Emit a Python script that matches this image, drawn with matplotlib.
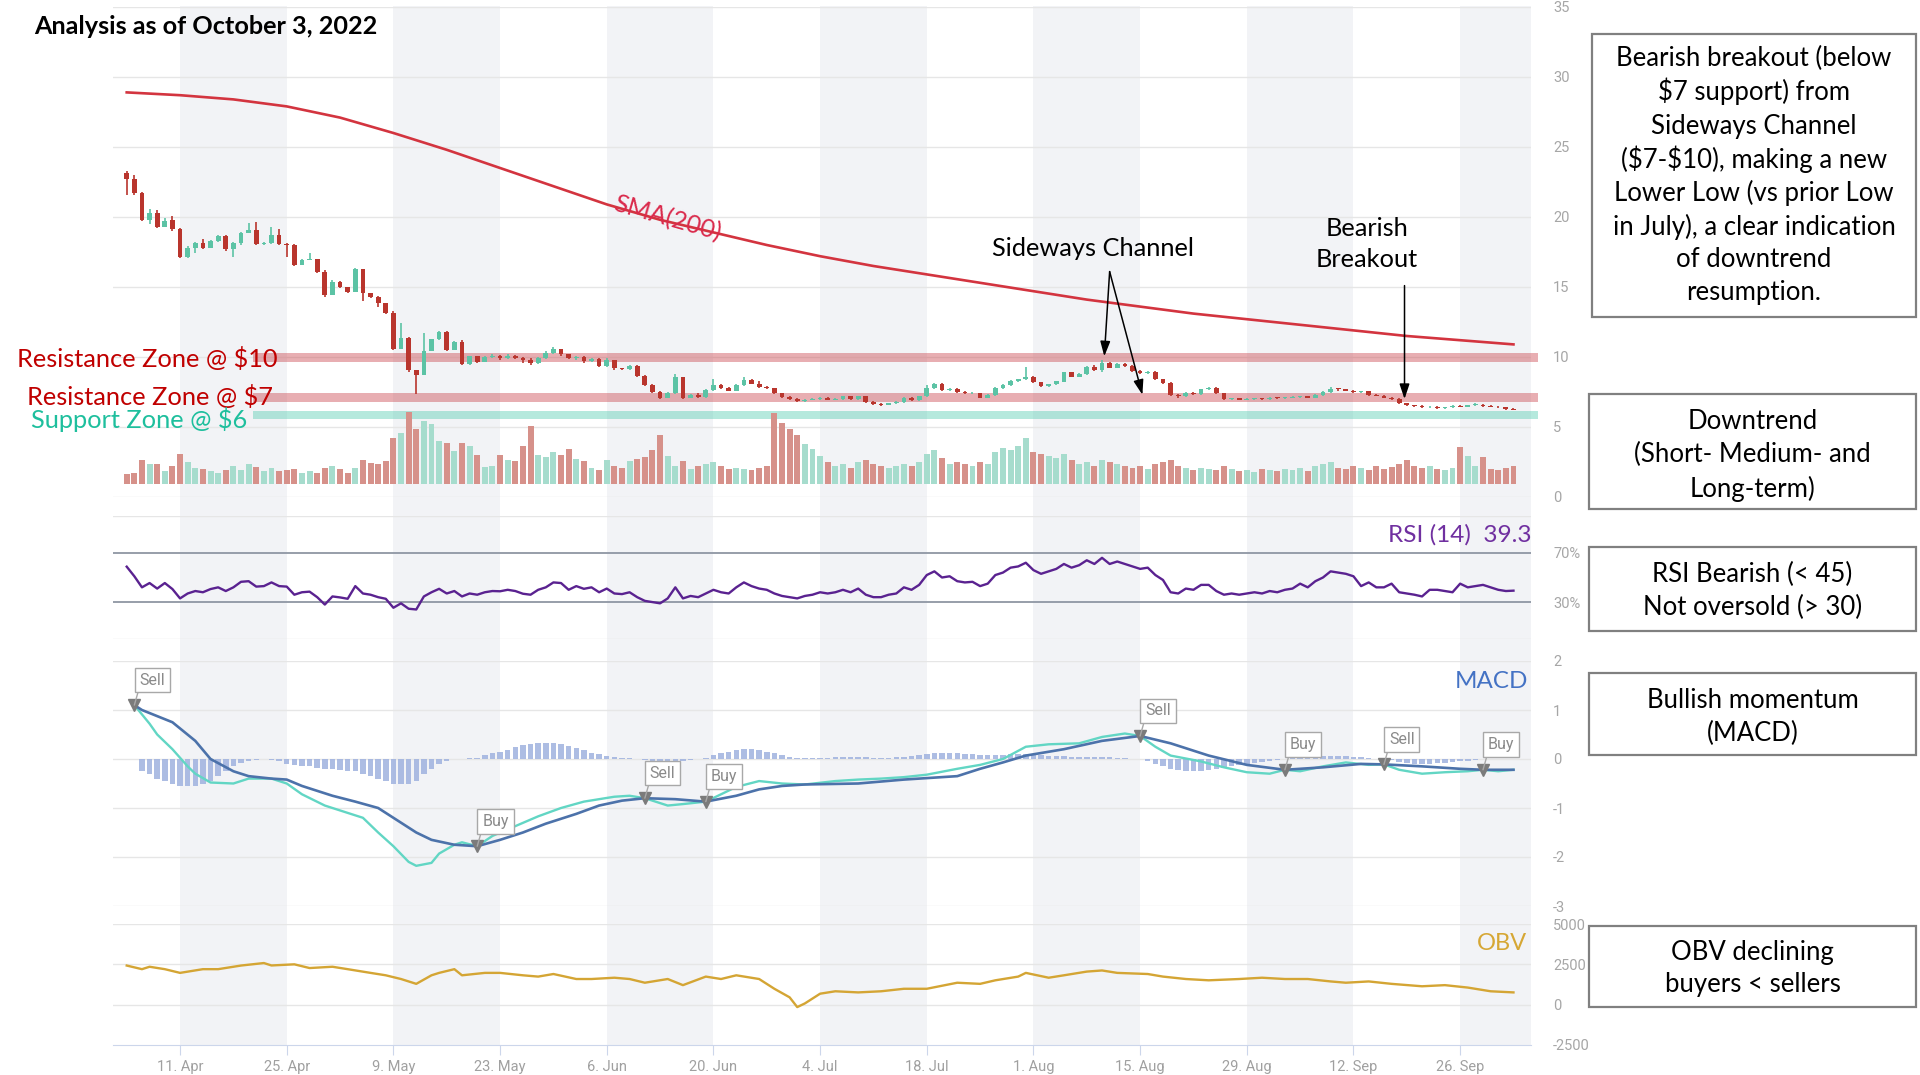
import datetime as dt
import numpy as np
import matplotlib
matplotlib.use("Agg")
import matplotlib.pyplot as plt
from matplotlib.patches import Rectangle

# ---------------- data ----------------
start_date = "2022-04-04"
first_open = 23.17
close = [22.69, 21.69, 19.79, 20.26, 19.31, 19.75, 19.12, 17.17, 17.81, 18.12,
         17.76, 18.31, 18.64, 17.69, 18.12, 18.88, 19.07, 18.07, 18.17, 18.71,
         18.07, 18.00, 16.57, 16.93, 17.00, 16.10, 14.43, 15.38, 14.98, 14.67,
         16.29, 14.60, 14.31, 13.83, 13.17, 10.57, 11.33, 9.05, 8.71, 10.45,
         11.26, 11.81, 10.50, 11.10, 9.50, 10.07, 9.67, 9.98, 10.10, 9.95,
         10.05, 9.95, 9.80, 9.55, 9.90, 10.30, 10.55, 10.20, 9.90, 10.00,
         9.70, 9.85, 9.35, 9.80, 9.20, 9.14, 9.33, 8.67, 8.00, 7.50,
         7.10, 7.40, 8.60, 7.10, 7.30, 7.15, 7.67, 8.00, 7.80, 7.60,
         8.00, 8.38, 8.10, 7.86, 7.76, 7.40, 7.14, 7.00, 6.85, 6.95,
         7.00, 7.10, 6.95, 7.00, 7.20, 7.00, 7.20, 6.80, 6.65, 6.60,
         6.70, 6.80, 7.10, 6.90, 7.20, 7.80, 8.10, 7.65, 7.75, 7.50,
         7.40, 7.45, 7.10, 7.30, 7.80, 8.00, 8.30, 8.40, 8.60, 8.20,
         7.90, 8.05, 8.25, 8.90, 8.60, 8.80, 9.30, 9.10, 9.60, 9.25,
         9.50, 9.35, 9.00, 8.85, 8.95, 8.40, 8.15, 7.30, 7.20, 7.45,
         7.35, 7.70, 7.80, 7.40, 7.00, 7.05, 6.95, 7.00, 7.05, 7.00,
         7.10, 7.05, 7.10, 7.15, 7.20, 7.10, 7.30, 7.50, 7.75, 7.70,
         7.60, 7.50, 7.55, 7.30, 7.25, 7.10, 7.00, 6.70, 6.55, 6.50,
         6.40, 6.45, 6.35, 6.40, 6.50, 6.45, 6.55, 6.60, 6.50, 6.45,
         6.40, 6.30, 6.25]
high = [23.30, 23.00, 21.80, 20.60, 20.50, 19.90, 20.10, 19.20, 17.90, 18.20,
        18.40, 18.35, 18.70, 18.75, 18.20, 18.95, 19.55, 19.67, 18.25, 19.26,
        19.15, 18.15, 18.10, 17.00, 17.45, 17.00, 16.20, 15.50, 15.40, 15.00,
        16.35, 16.30, 14.60, 14.35, 13.85, 13.30, 12.40, 11.40, 9.10, 11.70,
        11.30, 11.85, 11.85, 11.15, 11.20, 10.10, 10.10, 10.05, 10.20, 10.15,
        10.20, 10.15, 10.00, 9.95, 10.00, 10.40, 10.70, 10.60, 10.25, 10.10,
        10.05, 9.90, 9.90, 9.90, 9.80, 9.25, 9.40, 9.40, 8.70, 8.05,
        7.55, 7.50, 8.80, 8.60, 7.35, 7.40, 7.70, 8.40, 8.05, 7.85,
        8.05, 8.55, 8.40, 8.30, 7.90, 7.80, 7.45, 7.20, 7.05, 7.00,
        7.05, 7.15, 7.15, 7.05, 7.25, 7.25, 7.25, 7.25, 6.85, 6.70,
        6.75, 6.85, 7.15, 7.15, 7.25, 8.00, 8.15, 8.15, 7.80, 7.80,
        7.55, 7.50, 7.45, 7.35, 7.85, 8.05, 8.35, 8.45, 9.30, 8.65,
        8.25, 8.10, 8.30, 8.95, 8.95, 8.85, 9.35, 9.40, 9.80, 9.65,
        9.55, 9.55, 9.40, 9.05, 9.00, 9.00, 8.45, 8.20, 7.35, 7.50,
        7.50, 7.75, 7.85, 7.85, 7.45, 7.10, 7.10, 7.05, 7.10, 7.10,
        7.15, 7.15, 7.15, 7.20, 7.25, 7.25, 7.35, 7.55, 7.85, 7.80,
        7.75, 7.65, 7.60, 7.60, 7.35, 7.30, 7.15, 7.05, 6.75, 6.60,
        6.55, 6.50, 6.50, 6.45, 6.55, 6.55, 6.60, 6.70, 6.65, 6.55,
        6.50, 6.45, 6.35]
low = [21.57, 21.60, 19.70, 19.50, 19.20, 19.35, 19.00, 17.10, 17.10, 17.45,
       17.70, 17.80, 18.25, 17.60, 17.17, 18.00, 18.85, 18.00, 18.00, 18.10,
       18.00, 17.17, 16.50, 16.55, 16.90, 16.00, 14.30, 14.40, 14.90, 14.60,
       14.65, 14.00, 14.20, 13.60, 13.10, 10.50, 10.55, 8.90, 7.33, 8.70,
       10.40, 11.25, 10.45, 10.50, 9.40, 9.45, 9.60, 9.65, 9.90, 9.80,
       9.85, 9.85, 9.60, 9.40, 9.50, 9.85, 10.25, 10.10, 9.85, 9.80,
       9.60, 9.65, 9.30, 9.30, 9.10, 9.05, 9.10, 8.60, 7.95, 7.40,
       7.00, 7.05, 7.35, 7.00, 7.05, 7.05, 7.10, 7.60, 7.75, 7.55,
       7.55, 7.95, 8.05, 7.80, 7.70, 7.35, 7.10, 6.95, 6.80, 6.80,
       6.90, 6.95, 6.90, 6.90, 6.95, 6.95, 6.95, 6.75, 6.55, 6.50,
       6.55, 6.65, 6.75, 6.85, 6.85, 7.15, 7.75, 7.60, 7.60, 7.45,
       7.35, 7.35, 7.05, 7.05, 7.25, 7.75, 7.95, 8.25, 8.35, 8.15,
       7.85, 7.85, 8.00, 8.20, 8.55, 8.55, 8.75, 9.00, 8.90, 9.20,
       9.20, 9.30, 8.95, 8.80, 8.80, 8.35, 8.10, 7.25, 7.10, 7.15,
       7.30, 7.30, 7.65, 7.35, 6.95, 6.95, 6.90, 6.90, 6.95, 6.95,
       6.95, 7.00, 7.00, 7.05, 7.10, 7.05, 7.05, 7.25, 7.45, 7.60,
       7.55, 7.45, 7.45, 7.25, 7.20, 7.05, 6.95, 6.65, 6.50, 6.45,
       6.35, 6.35, 6.30, 6.30, 6.35, 6.40, 6.40, 6.50, 6.45, 6.40,
       6.35, 6.25, 6.20]
volume = [10, 11, 24, 20, 20, 13, 18, 30, 22, 16,
          15, 13, 11, 14, 18, 14, 20, 17, 13, 16,
          13, 14, 15, 11, 13, 11, 16, 18, 15, 11,
          16, 24, 21, 20, 23, 46, 51, 72, 55, 63,
          60, 43, 41, 33, 41, 38, 29, 17, 18, 29,
          24, 23, 38, 58, 29, 27, 32, 29, 35, 25,
          23, 16, 14, 24, 18, 16, 23, 25, 27, 34,
          49, 28, 18, 23, 15, 18, 20, 22, 18, 15,
          16, 15, 14, 16, 18, 71, 61, 55, 49, 40,
          35, 28, 22, 18, 20, 16, 22, 24, 20, 18,
          16, 18, 20, 18, 22, 30, 34, 26, 20, 22,
          20, 18, 22, 20, 32, 36, 34, 38, 46, 32,
          30, 28, 26, 30, 24, 20, 22, 18, 24, 22,
          20, 18, 16, 18, 15, 20, 22, 24, 18, 16,
          14, 16, 15, 14, 18, 15, 13, 14, 12, 15,
          14, 13, 15, 14, 16, 13, 18, 20, 22, 16,
          15, 18, 16, 14, 18, 15, 17, 20, 24, 18,
          16, 18, 15, 14, 16, 37, 28, 18, 27, 15,
          14, 16, 18]
sma_days = [0, 7, 14, 21, 28, 35, 42, 49, 56, 63, 70, 77, 84, 91, 98, 105,
            112, 119, 126, 133, 140, 147, 154, 161, 168, 175, 182]
sma200 = [28.9, 28.7, 28.4, 27.9, 27.1, 26.0, 24.8, 23.5, 22.2, 20.9, 19.8,
          18.9, 18.0, 17.2, 16.5, 15.9, 15.3, 14.7, 14.1, 13.6, 13.1, 12.7,
          12.3, 11.9, 11.5, 11.2, 10.9]
rsi = [58.8, 51, 42, 45.5, 41, 45.5, 40.6, 33, 37, 39,
       38, 40.6, 42, 39, 42, 46.5, 47, 42.6, 43, 46,
       43, 42.6, 36, 38, 38.5, 34, 28, 34.6, 33.8, 32.7,
       43, 37, 36, 34, 32.7, 25.4, 29, 24.6, 24, 34.6,
       38, 40.8, 37, 39, 34.6, 37, 36, 38, 39, 38.8,
       40, 39, 36.8, 36, 40, 42, 46, 45.5, 40, 43,
       40.8, 42, 38, 41, 37, 36.5, 38, 34, 31, 30,
       29, 33, 42, 33, 35, 34, 37, 40, 38, 37,
       42, 46, 43, 41, 40, 37, 35, 34, 33, 35,
       36, 38, 37, 38, 40, 38, 41, 36, 34, 34,
       36, 37, 42, 40, 44, 52, 55, 50, 51, 47,
       46, 46.5, 43, 45, 52, 54, 58, 59, 62, 56,
       53, 55, 57, 61, 58, 60, 64, 61, 66, 61,
       63, 61, 59, 57, 58, 52, 48, 38, 37, 41,
       40, 44, 44, 39, 36, 37, 36, 37, 38, 37,
       39, 38, 40, 41, 45, 42, 47, 50, 55, 54,
       53, 51, 43, 46, 42, 42, 45, 38, 37, 36,
       34.6, 40, 40, 39, 38, 45, 42, 43, 44, 42,
       40, 39, 39.3]
macd_days = [1, 3, 4, 6, 8, 9, 11, 14, 16, 19, 21, 23, 26, 28, 31, 33, 35, 37,
             38, 40, 41, 43, 44, 46, 48, 51, 54, 57, 60, 64, 66, 68, 71, 73,
             76, 80, 83, 86, 89, 93, 96, 99, 102, 105, 109, 112, 115, 118,
             121, 125, 128, 131, 133, 135, 137, 141, 144, 147, 150, 152, 154,
             157, 160, 163, 165, 167, 170, 173, 176, 178, 180, 182]
macd_line = [1.10, 0.72, 0.50, 0.20, -0.15, -0.30, -0.48, -0.50, -0.40, -0.40,
             -0.50, -0.72, -0.95, -1.05, -1.20, -1.50, -1.78, -2.10, -2.18,
             -2.12, -1.93, -1.75, -1.70, -1.78, -1.57, -1.37, -1.17, -1.00,
             -0.87, -0.77, -0.75, -0.80, -0.95, -0.92, -0.87, -0.57, -0.45,
             -0.50, -0.52, -0.45, -0.42, -0.40, -0.37, -0.32, -0.20, -0.12,
             0.00, 0.25, 0.30, 0.32, 0.45, 0.52, 0.47, 0.25, 0.07, -0.05,
             -0.17, -0.27, -0.30, -0.22, -0.25, -0.15, -0.07, -0.12, -0.11,
             -0.22, -0.30, -0.27, -0.25, -0.22, -0.25, -0.22]
signal_days = [1, 2, 6, 9, 11, 14, 16, 19, 21, 23, 27, 30, 33, 35, 38, 40, 43,
               46, 49, 52, 55, 59, 62, 65, 68, 72, 76, 80, 83, 86, 89, 96, 102,
               109, 112, 115, 118, 123, 128, 133, 137, 142, 147, 152, 157, 162,
               165, 170, 175, 178, 182]
signal_line = [1.10, 1.00, 0.75, 0.37, 0.00, -0.25, -0.35, -0.40, -0.42, -0.55,
               -0.75, -0.87, -1.00, -1.20, -1.50, -1.65, -1.75, -1.78, -1.65,
               -1.50, -1.32, -1.12, -0.95, -0.85, -0.80, -0.82, -0.87, -0.75,
               -0.62, -0.55, -0.52, -0.50, -0.42, -0.35, -0.20, -0.07, 0.07,
               0.20, 0.37, 0.47, 0.32, 0.07, -0.12, -0.22, -0.17, -0.10, -0.11,
               -0.15, -0.20, -0.22, -0.22]
hist = [0.00, 0.00, -0.25, -0.30, -0.40, -0.45, -0.50, -0.55, -0.55, -0.55,
        -0.50, -0.45, -0.35, -0.25, -0.15, -0.08, -0.05, -0.02, 0.00, -0.02,
        -0.05, -0.10, -0.12, -0.15, -0.15, -0.18, -0.20, -0.20, -0.22, -0.25,
        -0.25, -0.30, -0.35, -0.40, -0.45, -0.50, -0.50, -0.50, -0.45, -0.30,
        -0.20, -0.10, -0.05, 0.00, 0.00, 0.02, 0.03, 0.08, 0.12, 0.15,
        0.18, 0.25, 0.28, 0.30, 0.32, 0.33, 0.32, 0.30, 0.27, 0.23,
        0.19, 0.12, 0.10, 0.07, 0.05, 0.03, 0.02, 0.00, -0.02, -0.05,
        -0.07, -0.08, -0.07, -0.05, -0.03, -0.01, 0.02, 0.08, 0.12, 0.15,
        0.18, 0.20, 0.20, 0.18, 0.15, 0.12, 0.08, 0.05, 0.03, 0.02,
        0.02, 0.03, 0.03, 0.04, 0.05, 0.05, 0.04, 0.04, 0.03, 0.03,
        0.03, 0.04, 0.05, 0.06, 0.08, 0.10, 0.12, 0.12, 0.12, 0.12,
        0.10, 0.10, 0.09, 0.08, 0.08, 0.09, 0.10, 0.10, 0.10, 0.09,
        0.08, 0.07, 0.06, 0.06, 0.05, 0.05, 0.05, 0.05, 0.05, 0.04,
        0.03, 0.02, 0.01, 0.00, -0.05, -0.10, -0.15, -0.20, -0.23, -0.25,
        -0.25, -0.24, -0.22, -0.20, -0.18, -0.15, -0.12, -0.10, -0.08, -0.06,
        -0.04, -0.02, 0.00, 0.02, 0.03, 0.04, 0.05, 0.06, 0.07, 0.07,
        0.06, 0.05, 0.04, 0.02, 0.01, 0.00, -0.03, -0.06, -0.08, -0.10,
        -0.11, -0.10, -0.09, -0.08, -0.06, -0.05, -0.04, -0.02, 0.00, 0.01,
        0.01, 0.00, 0.00]
obv_days = [0, 2, 3, 5, 7, 10, 12, 15, 18, 19, 22, 24, 27, 29, 32, 34, 36, 38,
            40, 41, 43, 44, 47, 49, 52, 54, 56, 59, 61, 64, 66, 68, 71, 73,
            76, 78, 80, 83, 85, 87, 88, 89, 91, 93, 96, 99, 102, 105, 109,
            112, 114, 117, 118, 121, 123, 126, 128, 130, 134, 136, 139, 142,
            146, 149, 152, 155, 158, 160, 163, 166, 170, 173, 176, 179, 182]
obv = [2425, 2200, 2350, 2200, 1970, 2200, 2200, 2425, 2580, 2430, 2500, 2270,
       2350, 2200, 1970, 1820, 1590, 1290, 1820, 1970, 2200, 1820, 1970, 1970,
       1820, 1740, 1900, 1590, 1590, 1670, 1590, 1360, 1590, 1210, 1740, 1590,
       1820, 1590, 985, 455, -150, 76, 680, 830, 760, 830, 985, 985, 1360,
       1290, 1510, 1740, 1970, 1670, 1820, 2050, 2120, 1970, 1900, 1740, 1590,
       1510, 1590, 1670, 1590, 1590, 1440, 1360, 1440, 1290, 1140, 1210, 1060,
       830, 760]
flag_days = [1, 46, 68, 76, 133, 152, 165, 178]
flag_vals = [1.10, -1.78, -0.80, -0.87, 0.47, -0.22, -0.11, -0.22]
flag_labels = ["Sell", "Buy", "Sell", "Buy", "Sell", "Buy", "Sell", "Buy"]
tick_dates = ["2022-04-11", "2022-04-25", "2022-05-09", "2022-05-23",
              "2022-06-06", "2022-06-20", "2022-07-04", "2022-07-18",
              "2022-08-01", "2022-08-15", "2022-08-29", "2022-09-12",
              "2022-09-26"]
tick_labels = ["11. Apr", "25. Apr", "9. May", "23. May", "6. Jun", "20. Jun",
               "4. Jul", "18. Jul", "1. Aug", "15. Aug", "29. Aug", "12. Sep",
               "26. Sep"]
rsi_last = "39.3"

# ---------------- figure ----------------
W, H = 1920, 1075
fig = plt.figure(figsize=(19.2, 10.75), dpi=100)
fig.patch.set_facecolor("white")
TXT = ["Lato", "DejaVu Sans"]
TICK = ["Roboto", "DejaVu Sans"]

def fx(x):
    return x / W

def fy(y):
    return 1 - y / H

def axes_px(x0, y0, x1, y1, z):
    a = fig.add_axes([fx(x0), fy(y1), fx(x1) - fx(x0), fy(y0) - fy(y1)])
    a.set_zorder(z)
    a.patch.set_alpha(0)
    return a

d0 = dt.date.fromisoformat(start_date)
tick_pos = [(dt.date.fromisoformat(t) - d0).days for t in tick_dates]
n = len(close)
days = np.arange(n)
c = np.array(close)
o = np.array([first_open] + close[:-1])
hi = np.array(high)
lo = np.array(low)
up = c >= o
XL = (-1.8, 184.3)
PX0, PX1 = 113, 1531

grid_c = "#e6e6e6"
lab_c = "#a6a6a6"

# background bands
ax_bg = axes_px(PX0, 6, PX1, 1046, 0)
ax_bg.set_xlim(*XL)
ax_bg.set_ylim(0, 1)
ax_bg.axis("off")
edges = tick_pos + [XL[1]]
for i in range(0, len(edges) - 1, 2):
    ax_bg.axvspan(edges[i], edges[i + 1], color="#f2f3f6", lw=0)

def style_axis(a, ticks, labels, ylim):
    a.set_xlim(*XL)
    a.set_ylim(*ylim)
    for s in a.spines.values():
        s.set_visible(False)
    a.yaxis.tick_right()
    a.set_yticks(ticks)
    a.set_yticklabels(labels, fontfamily=TICK, fontsize=10.5, color=lab_c)
    a.tick_params(axis="y", length=0, pad=16)
    a.set_xticks([])

# price panel
ax_p = axes_px(PX0, 7, PX1, 497, 1)
style_axis(ax_p, range(0, 36, 5), [str(v) for v in range(0, 36, 5)], (0, 35))
for v in range(0, 36, 5):
    ax_p.axhline(v, color=grid_c, lw=1, zorder=0)

zone_x0, zone_x1 = 16.6, 185.2
ax_p.fill_between([zone_x0, zone_x1], 9.65, 10.3, color="#cc4d55", alpha=0.45, lw=0, zorder=1, clip_on=False)
ax_p.fill_between([zone_x0, zone_x1], 6.8, 7.45, color="#cc4d55", alpha=0.45, lw=0, zorder=1, clip_on=False)
ax_p.fill_between([zone_x0, zone_x1], 5.6, 6.15, color="#5ccfb5", alpha=0.45, lw=0, zorder=1, clip_on=False)

col_up, col_dn = "#5cc3a5", "#b9352d"
cols = np.where(up, col_up, col_dn)
ax_p.vlines(days, lo, hi, colors=cols, lw=1.2, zorder=3)
body_lo = np.minimum(o, c)
body_h = np.maximum(np.abs(c - o), 0.06)
ax_p.bar(days, body_h, bottom=body_lo, width=0.62, color=cols, lw=0, zorder=4)
ax_p.plot(sma_days, sma200, color="#d3343f", lw=1.9, zorder=5)

# volume panel (overlaid at the bottom of the price panel)
ax_v = axes_px(PX0, 7, PX1, 497, 2)
ax_v.set_xlim(*XL)
ax_v.set_ylim(-13, 477)
ax_v.axis("off")
vcols = np.where(up, "#a6dccd", "#d6918a")
ax_v.bar(days, volume, width=0.78, color=vcols, lw=0)

# RSI panel
ax_r = axes_px(PX0, 516, PX1, 639, 1)
style_axis(ax_r, [30, 70], ["30%", "70%"], (0, 100))
ax_r.axhline(0, color=grid_c, lw=1)
ax_r.axhline(100, color=grid_c, lw=1)
ax_r.axhline(30, color="#8f96a3", lw=1.3)
ax_r.axhline(70, color="#8f96a3", lw=1.3)
ax_r.plot(days, rsi, color="#5a2290", lw=1.7)

# MACD panel
ax_m = axes_px(PX0, 661, PX1, 906, 1)
style_axis(ax_m, range(-3, 3), [str(v) for v in range(-3, 3)], (-3, 2))
for v in range(-3, 3):
    ax_m.axhline(v, color=grid_c, lw=1, zorder=0)
ax_m.bar(days, hist, width=0.72, color="#9fb2df", alpha=0.85, lw=0, zorder=1)
ax_m.plot(macd_days, macd_line, color="#62d6c4", lw=1.7, zorder=2)
ax_m.plot(signal_days, signal_line, color="#4c72aa", lw=1.9, zorder=3)
ax_m.plot(flag_days, flag_vals, "v", color="#7b7b7b", ms=8, zorder=4)
for d, v, lab in zip(flag_days, flag_vals, flag_labels):
    ax_m.annotate(lab, xy=(d, v), xytext=(5, 25), textcoords="offset pixels",
                  ha="left", va="center", fontsize=11.5, color="#8a8a8a",
                  fontfamily=TICK, zorder=6,
                  bbox=dict(boxstyle="square,pad=0.3", fc="white", ec="#a8a8a8", lw=1),
                  arrowprops=dict(arrowstyle="-", color="#a8a8a8", lw=1,
                                  relpos=(0, 0), shrinkA=0, shrinkB=0))

# OBV panel
ax_o = axes_px(PX0, 924, PX1, 1045, 1)
style_axis(ax_o, [-2500, 0, 2500, 5000], ["-2500", "0", "2500", "5000"], (-2500, 5000))
for v in [0, 2500, 5000]:
    ax_o.axhline(v, color=grid_c, lw=1, zorder=0)
ax_o.spines["bottom"].set_visible(True)
ax_o.spines["bottom"].set_color("#ccd6eb")
ax_o.plot(obv_days, obv, color="#d4a534", lw=1.7)
ax_o.set_xticks(tick_pos)
ax_o.set_xticklabels(tick_labels, fontfamily=TICK, fontsize=10.5, color="#a0a0a0")
ax_o.tick_params(axis="x", length=7, color="#ccd6eb", pad=4)

# arrows on the price panel
def arrow(a, p0, p1):
    a.annotate("", xy=p1, xytext=p0,
               arrowprops=dict(arrowstyle="-|>,head_length=0.9,head_width=0.3",
                               color="black", lw=1.1, shrinkA=0, shrinkB=0),
               zorder=7)

arrow(ax_p, (129.0, 16.1), (128.3, 10.05))
arrow(ax_p, (129.0, 16.1), (133.3, 7.3))
arrow(ax_p, (167.7, 15.1), (167.7, 7.0))

# ---------------- texts ----------------
def T(x, y, s, **kw):
    kw.setdefault("fontfamily", TXT)
    return fig.text(fx(x), fy(y), s, **kw)

T(34, 27, "Analysis as of October 3, 2022", fontsize=18.2, fontweight="bold",
  ha="left", va="center", color="black")
T(17, 359, "Resistance Zone @ $10", fontsize=18.3, color="#c00000", ha="left", va="center")
T(27, 397, "Resistance Zone @ $7", fontsize=18.3, color="#c00000", ha="left", va="center")
T(31, 420, "Support Zone @ $6", fontsize=18.3, color="#1ebf9d", ha="left", va="center")
T(667, 218, "SMA(200)", fontsize=18, color="#da2a4c", ha="center", va="center", rotation=-16)
T(1093, 249, "Sideways Channel", fontsize=18.3, ha="center", va="center")
T(1367, 228, "Bearish", fontsize=18.3, ha="center", va="center")
T(1367, 260, "Breakout", fontsize=18.3, ha="center", va="center")
T(1531, 535, "RSI (14)  " + rsi_last, fontsize=17.6, color="#7030a0", ha="right", va="center")
T(1528, 681, "MACD", fontsize=17.4, color="#4472c4", ha="right", va="center")
T(1527, 943, "OBV", fontsize=17, color="#d6a734", ha="right", va="center")

# white mask on the right, then the commentary boxes
fig.add_artist(Rectangle((fx(1590), 0), 1 - fx(1590), 1, transform=fig.transFigure,
                         fc="white", ec="none", zorder=9))

def box(x0, y0, x1, y1, lines, ys):
    fig.add_artist(Rectangle((fx(x0), fy(y1)), fx(x1) - fx(x0), fy(y0) - fy(y1),
                             transform=fig.transFigure, fc="white", ec="#808080",
                             lw=1.6, zorder=10))
    cx = (x0 + x1) / 2
    for s, y in zip(lines, ys):
        T(cx, y, s, fontsize=18.5, ha="center", va="center_baseline", zorder=11)

box(1592, 34, 1916, 317,
    ["Bearish breakout (below", r"\$7 support) from", "Sideways Channel",
     r"(\$7-\$10), making a new", "Lower Low (vs prior Low", "in July), a clear indication",
     "of downtrend", "resumption."],
    [56, 89, 124, 157, 190, 224, 257, 290])
box(1589, 394, 1916, 509, ["Downtrend", "(Short- Medium- and", "Long-term)"], [419, 452, 486])
box(1589, 547, 1916, 631, ["RSI Bearish (< 45)", "Not oversold (> 30)"], [572, 605])
box(1589, 673, 1916, 755, ["Bullish momentum", "(MACD)"], [698, 731])
box(1589, 926, 1916, 1007, ["OBV declining", "buyers < sellers"], [950, 982])

fig.savefig("out.png", dpi=100, facecolor="white")
